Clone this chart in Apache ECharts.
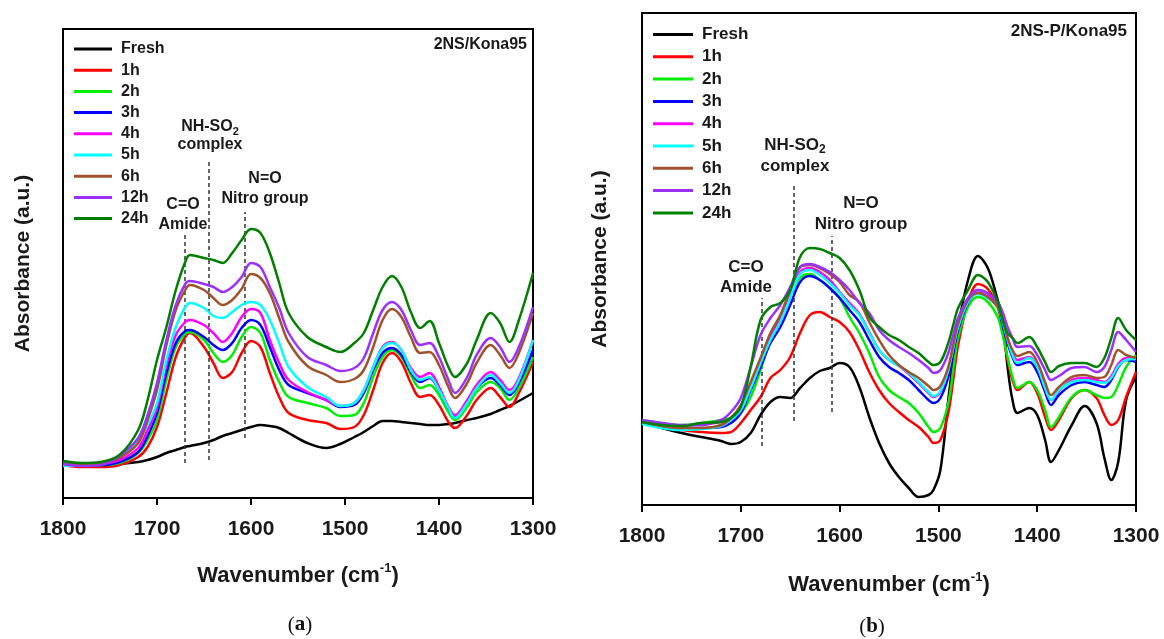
<!DOCTYPE html>
<html>
<head>
<meta charset="utf-8">
<script src="https://cdn.jsdelivr.net/npm/echarts@6/dist/echarts.min.js"></script>
<style>
html,body{margin:0;padding:0;background:#fff;}
#chart{width:1164px;height:639px;}
</style>
</head>
<body>
<div id="chart"></div>
<script>
// ---- data (absorbance in arbitrary units) ----
const SERIES_NAMES = ['Fresh','1h','2h','3h','4h','5h','6h','12h','24h'];
const SERIES_COLORS = ['#000000','#ff0000','#00ee00','#0000ff','#ff00ff','#00ffff','#a0522d','#9b30ff','#008000'];

// Panel (a) 2NS/Kona95
const WN_A = [1800,1780,1760,1740,1720,1710,1700,1690,1680,1670,1665,1650,1640,1630,1620,1610,1600,1590,1580,1570,1560,1540,1520,1505,1490,1480,1470,1460,1450,1440,1430,1420,1410,1400,1390,1383,1370,1360,1345,1335,1325,1315,1300];
const FRESH_A = [35,34,33,34,36,38,41,45,48,51,52,55,58,62,65,68,71,73,72,70,65,55,50,54,61,66,72,77,77,76,75,74,73,73,74,75,78,80,84,88,92,97,105];
const H1_A  = [33,31,31,33,41,51,71,105,141,161,165,151,135,120,126,145,157,151,125,101,85,78,75,69,71,83,108,135,145,136,115,101,103,93,76,70,83,98,110,101,91,105,136];
const H2_A  = [35,33,33,35,45,58,78,118,151,164,166,158,145,136,143,161,171,165,138,116,101,95,90,82,83,95,121,141,148,141,123,110,113,103,86,78,91,106,116,110,98,110,141];
const H3_A  = [34,33,33,36,46,62,85,125,155,167,168,161,153,148,155,170,178,173,151,128,113,105,98,91,93,105,128,145,150,143,126,116,120,108,90,81,96,110,120,113,103,115,148];
const H4_A  = [34,33,34,38,50,68,90,133,163,176,178,173,165,156,165,181,189,185,158,135,118,106,98,92,95,108,131,151,156,148,130,121,125,111,91,83,98,113,126,118,108,120,158];
const H5_A  = [32,33,35,41,58,73,95,138,171,191,195,190,182,180,186,193,196,193,178,155,131,111,101,92,95,108,131,150,155,148,128,118,121,108,90,80,95,110,123,115,105,118,158];
const H6_A  = [35,33,34,40,55,78,108,153,188,208,213,208,200,193,198,209,224,220,205,180,156,132,123,116,119,128,151,178,189,181,161,145,146,133,111,100,115,135,153,143,130,145,185];
const H12_A = [34,32,33,42,60,83,115,158,193,214,217,214,211,206,211,221,235,231,211,190,165,141,133,127,130,140,165,188,196,188,168,153,155,141,118,105,121,143,160,151,136,151,191];
const H24_A = [37,35,36,43,68,98,138,171,208,236,243,240,238,235,245,258,269,265,245,215,185,161,151,146,155,165,188,211,222,211,186,170,177,155,131,121,135,158,185,175,156,178,225];
const Y_MAX_A = 469;
const MARK_WN_A  = [1670,1645,1607];
const MARK_TOP_A = [263,338,286];
const MARK_BOT_A = [35,38,60];

// Panel (b) 2NS-P/Kona95
const WN_B = [1800,1780,1760,1740,1720,1710,1700,1690,1680,1670,1660,1650,1640,1630,1620,1610,1600,1590,1580,1570,1560,1550,1540,1530,1520,1510,1505,1498,1490,1485,1480,1470,1460,1450,1440,1435,1430,1425,1420,1408,1400,1392,1386,1378,1365,1352,1340,1332,1325,1318,1310,1300];
const FRESH_B = [83,77,72,68,64,61,63,72,90,103,108,107,117,127,134,137,142,138,118,88,62,42,28,17,8,10,15,35,105,145,178,225,249,237,205,187,138,105,92,97,90,65,43,55,80,99,82,47,25,43,105,128];
const H1_B  = [83,79,75,73,72,73,82,95,108,127,135,148,172,190,193,188,183,173,155,133,115,102,93,85,78,68,62,65,92,125,160,203,221,216,198,175,145,125,115,123,112,88,75,85,107,115,107,90,80,85,108,133];
const H2_B  = [85,82,80,82,85,87,92,108,135,165,188,210,227,231,225,217,207,188,172,152,128,115,108,102,92,78,73,77,102,135,168,198,208,203,188,170,148,128,117,123,115,95,78,88,108,115,110,107,108,120,138,150];
const H3_B  = [82,79,77,77,78,82,92,115,138,162,178,200,223,229,225,217,207,195,183,165,148,138,132,125,115,105,102,107,128,152,175,202,212,208,198,180,162,148,140,143,133,113,100,110,120,123,120,118,125,138,145,143];
const H4_B  = [84,81,79,81,83,87,97,120,145,168,185,210,233,237,233,225,213,202,191,173,155,145,139,131,122,112,108,113,135,158,180,206,215,211,201,185,167,153,145,148,138,117,105,114,125,127,125,123,129,141,147,147];
const H5_B  = [81,77,75,76,79,85,95,117,142,165,183,207,231,235,230,222,212,200,190,172,155,145,139,132,123,113,109,114,135,157,178,203,211,207,198,183,165,150,142,147,138,117,105,115,123,125,123,122,127,139,145,146];
const H6_B  = [83,79,77,77,80,87,100,123,147,172,190,215,238,240,237,231,223,210,203,183,165,150,140,133,127,119,115,119,138,160,182,205,212,208,198,187,167,155,149,153,143,123,110,118,128,130,127,128,140,155,150,147];
const H12_B = [85,82,80,80,85,93,107,138,170,187,200,218,238,241,238,233,225,215,202,192,175,165,158,152,145,137,132,135,152,170,187,207,215,212,203,193,178,167,158,159,150,135,125,129,137,138,133,138,155,173,165,153];
const H24_B = [83,80,79,82,83,87,98,138,185,198,202,215,248,257,256,252,247,235,215,188,178,170,165,158,152,143,140,143,162,180,197,215,230,223,203,185,172,167,162,168,158,143,133,139,142,142,138,147,167,187,175,165];
const Y_MAX_B = 492;
const MARK_WN_B  = [1679,1646,1608];
const MARK_TOP_B = [207,322,269];
const MARK_BOT_B = [59,84,93];

const X_MIN = 1300, X_MAX = 1800, X_STEP = 100;

// ---- chart ----
const SANS = '"Liberation Sans", Arial, Helvetica, sans-serif';
const SERIF = '"Liberation Serif", "DejaVu Serif", serif';
const TXT = '#1a1a1a';

const PANEL_A = [FRESH_A,H1_A,H2_A,H3_A,H4_A,H5_A,H6_A,H12_A,H24_A];
const PANEL_B = [FRESH_B,H1_B,H2_B,H3_B,H4_B,H5_B,H6_B,H12_B,H24_B];

function buildSeries(panelIdx, wn, sets, markWn, markTop, markBot) {
  return sets.map((vals, i) => {
    const s = {
      type: 'line', name: SERIES_NAMES[i],
      xAxisIndex: panelIdx, yAxisIndex: panelIdx,
      data: wn.map((w, j) => [w, vals[j]]),
      smooth: 0.35, showSymbol: false, symbol: 'none',
      lineStyle: { width: 2.5, color: SERIES_COLORS[i] },
      itemStyle: { color: SERIES_COLORS[i] },
      z: 3 + i
    };
    if (i === 0) {
      s.markLine = {
        silent: true, symbol: 'none',
        label: { show: false },
        lineStyle: { type: [4, 3], color: '#333', width: 1.5 },
        data: markWn.map((w, k) => [{ coord: [w, markBot[k]] }, { coord: [w, markTop[k]] }])
      };
    }
    return s;
  });
}

function xAxis(idx, gap) {
  return {
    gridIndex: idx, type: 'value', min: X_MIN, max: X_MAX, interval: X_STEP, inverse: true,
    axisLine: { show: true, lineStyle: { color: '#000', width: 2 } },
    axisTick: { show: true, inside: false, length: 7, lineStyle: { color: '#000', width: 2 } },
    axisLabel: { fontSize: 21, fontWeight: 'bold', color: TXT, fontFamily: SANS, margin: 21,
      formatter: function (v) { return String(v); } },
    splitLine: { show: false },
    name: '{a|Wavenumber (cm}{s|-1}{a|)}',
    nameLocation: 'middle', nameGap: gap,
    nameTextStyle: {
      rich: {
        a: { fontSize: 22, fontWeight: 'bold', color: TXT, fontFamily: SANS, lineHeight: 28 },
        s: { fontSize: 13, fontWeight: 'bold', color: TXT, fontFamily: SANS, lineHeight: 28, padding: [0, 0, 16, 0] }
      }
    }
  };
}
function yAxis(idx, max, gap, fs) {
  return {
    gridIndex: idx, type: 'value', min: 0, max: max,
    axisLine: { show: false }, axisTick: { show: false }, axisLabel: { show: false },
    splitLine: { show: false },
    name: 'Absorbance (a.u.)', nameLocation: 'middle', nameGap: gap, nameRotate: 90,
    nameTextStyle: { fontSize: fs, fontWeight: 'bold', color: TXT, fontFamily: SANS }
  };
}
function legend(left, top, iw, fs, gap) {
  return {
    data: SERIES_NAMES, orient: 'vertical', left: left, top: top,
    icon: 'rect', itemWidth: iw, itemHeight: 3, itemGap: gap, padding: 0,
    selectedMode: false,
    textStyle: { fontSize: fs, fontWeight: 'bold', color: TXT, fontFamily: SANS, lineHeight: fs, padding: [0, 0, 0, 4] }
  };
}
function label(x, y, text, fs, align) {
  return { type: 'text', x: x, y: y, silent: true,
    style: { text: text, fill: TXT, font: 'bold ' + fs + 'px ' + SANS, align: align || 'center', verticalAlign: 'middle' } };
}
function subLabel(x, y, main, sub, fs) {
  return { type: 'text', x: x, y: y, silent: true,
    style: { text: '{n|' + main + '}{s|' + sub + '}', align: 'center', verticalAlign: 'middle',
      rich: {
        n: { fontSize: fs, fontWeight: 'bold', fill: TXT, fontFamily: SANS, lineHeight: fs + 4 },
        s: { fontSize: Math.round(fs * 0.7), fontWeight: 'bold', fill: TXT, fontFamily: SANS, lineHeight: fs + 4, padding: [9, 0, 0, 0] }
      } } };
}
function panelTag(x, y, letter) {
  return { type: 'text', x: x, y: y, silent: true,
    style: { text: '{p|(}{b|' + letter + '}{p|)}', align: 'center', verticalAlign: 'middle',
      rich: {
        p: { fontSize: 21, fill: '#111', fontFamily: SERIF },
        b: { fontSize: 21, fontWeight: 'bold', fill: '#111', fontFamily: SERIF }
      } } };
}

const chart = echarts.init(document.getElementById('chart'), null, { renderer: 'canvas' });
chart.setOption({
  backgroundColor: '#ffffff',
  animation: false,
  grid: [
    { left: 63, top: 29, width: 470, height: 469, show: true, borderColor: '#000', borderWidth: 2, backgroundColor: 'transparent' },
    { left: 642, top: 13, width: 494, height: 492, show: true, borderColor: '#000', borderWidth: 2, backgroundColor: 'transparent' }
  ],
  xAxis: [xAxis(0, 64), xAxis(1, 66)],
  yAxis: [yAxis(0, Y_MAX_A, 29, 21), yAxis(1, Y_MAX_B, 31, 21)],
  legend: [legend(74, 41, 38, 16, 5.2), legend(653, 26, 40, 17, 5.3)],
  series: [].concat(
    buildSeries(0, WN_A, PANEL_A, MARK_WN_A, MARK_TOP_A, MARK_BOT_A),
    buildSeries(1, WN_B, PANEL_B, MARK_WN_B, MARK_TOP_B, MARK_BOT_B)
  ),
  graphic: [
    label(527, 45, '2NS/Kona95', 16, 'right'),
    subLabel(210, 127, 'NH-SO', '2', 16),
    label(210, 145, 'complex', 16),
    label(265, 179, 'N=O', 16),
    label(265, 199, 'Nitro group', 16),
    label(183, 205, 'C=O', 16),
    label(183, 225, 'Amide', 16),
    label(1127, 31, '2NS-P/Kona95', 17, 'right'),
    subLabel(795, 145, 'NH-SO', '2', 17),
    label(795, 166, 'complex', 17),
    label(861, 203, 'N=O', 17),
    label(861, 224, 'Nitro group', 17),
    label(746, 267, 'C=O', 17),
    label(746, 287, 'Amide', 17),
    panelTag(300, 625, 'a'),
    panelTag(872, 627, 'b')
  ]
});
</script>
</body>
</html>
